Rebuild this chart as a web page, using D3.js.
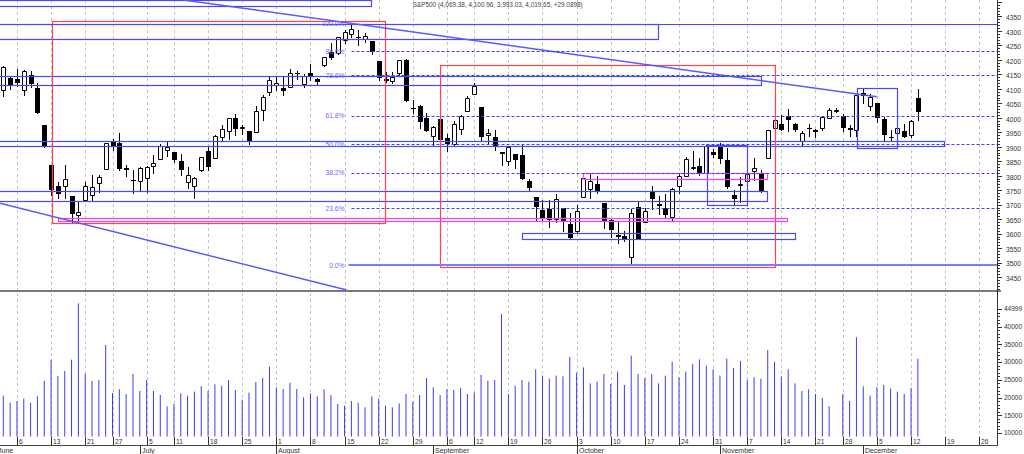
<!DOCTYPE html>
<html><head><meta charset="utf-8">
<script src="https://cdn.jsdelivr.net/npm/d3@7/dist/d3.min.js"></script>
<style>
html,body{margin:0;padding:0;background:#fff;overflow:hidden}
svg{display:block}
text{font-family:"Liberation Sans",Arial,sans-serif}
</style>
</head><body>
<svg id="chart" width="1024" height="454"></svg>
<script>
// ---------------- DATA ----------------
const title = "S&P500 (4,069.38, 4,100.96, 3,993.03, 4,019.65, +29.0898)";

const tradingDates = [
"06-01","06-02","06-03","06-06","06-07","06-08","06-09","06-10","06-13","06-14","06-15","06-16","06-17","06-21","06-22","06-23","06-24","06-27","06-28","06-29","06-30",
"07-01","07-05","07-06","07-07","07-08","07-11","07-12","07-13","07-14","07-15","07-18","07-19","07-20","07-21","07-22","07-25","07-26","07-27","07-28","07-29",
"08-01","08-02","08-03","08-04","08-05","08-08","08-09","08-10","08-11","08-12","08-15","08-16","08-17","08-18","08-19","08-22","08-23","08-24","08-25","08-26","08-29","08-30","08-31",
"09-01","09-02","09-06","09-07","09-08","09-09","09-12","09-13","09-14","09-15","09-16","09-19","09-20","09-21","09-22","09-23","09-26","09-27","09-28","09-29","09-30",
"10-03","10-04","10-05","10-06","10-07","10-10","10-11","10-12","10-13","10-14","10-17","10-18","10-19","10-20","10-21","10-24","10-25","10-26","10-27","10-28","10-31",
"11-01","11-02","11-03","11-04","11-07","11-08","11-09","11-10","11-11","11-14","11-15","11-16","11-17","11-18","11-21","11-22","11-23","11-25","11-28","11-29","11-30",
"12-01","12-02","12-05","12-06","12-07","12-08","12-09","12-12","12-13"];
const futureDates = ["12-14","12-15","12-16","12-19","12-20","12-21","12-22","12-23","12-26","12-27","12-28"];

const open = [
4149.78,4095.41,4137.57,4134.72,4096.47,4147.12,4101.65,3974.39,3838.15,3763.52,3764.05,3728.18,3665.90,3715.31,3733.89,3774.71,3821.75,3920.76,3913.00,3825.09,3785.99,
3781.00,3792.61,3831.98,3858.85,3888.26,3880.94,3851.95,3779.67,3763.99,3818.00,3883.79,3860.73,3935.32,3955.47,4000.20,3965.72,3953.22,3951.43,4026.13,4087.33,
4112.38,4104.21,4107.96,4154.85,4115.87,4155.93,4133.11,4181.02,4227.40,4225.02,4269.37,4290.46,4280.40,4273.13,4266.31,4195.08,4133.09,4126.55,4153.26,4198.74,4034.58,4041.25,4000.67,
3936.73,3994.66,3930.89,3909.43,3959.94,4022.94,4083.67,4037.12,3940.73,3932.41,3880.95,3849.91,3875.23,3871.40,3782.36,3727.14,3682.72,3686.44,3651.94,3687.01,3633.48,
3609.78,3726.46,3753.25,3771.97,3706.74,3647.51,3595.86,3590.83,3520.37,3690.41,3638.65,3746.26,3703.11,3689.05,3657.10,3764.45,3799.44,3825.97,3834.69,3808.26,3881.85,
3901.79,3852.90,3733.25,3766.98,3780.71,3817.02,3810.94,3859.89,3963.72,3977.97,4006.41,3976.82,3919.26,3966.39,3956.23,3965.51,4000.30,4023.34,4005.36,3964.19,3957.18,
4087.14,4040.17,4052.02,3996.63,3933.28,3947.79,3954.17,3939.29,4069.38];
const high = [
4166.54,4177.51,4142.67,4168.78,4164.86,4160.14,4119.10,3974.39,3838.15,3778.18,3837.56,3728.18,3707.71,3779.65,3801.79,3802.58,3913.65,3927.72,3945.86,3836.50,3818.99,
3829.82,3832.19,3870.91,3910.63,3918.50,3880.94,3873.41,3829.44,3796.41,3863.62,3902.44,3939.81,3974.13,3999.29,4012.44,3975.30,3953.22,4039.56,4078.95,4140.15,
4144.95,4140.47,4167.66,4161.29,4151.58,4186.62,4137.30,4211.03,4257.91,4280.47,4301.79,4325.28,4302.18,4292.53,4266.31,4195.08,4159.77,4156.56,4200.54,4203.04,4062.99,4044.98,4015.37,
3970.23,4018.43,3942.55,3987.89,4010.50,4076.81,4119.28,4037.12,3961.94,3959.14,3880.95,3900.45,3876.01,3907.07,3790.28,3727.14,3715.67,3717.53,3736.74,3687.01,3671.44,
3698.35,3791.92,3806.91,3797.93,3706.74,3652.17,3640.66,3608.34,3685.41,3712.00,3689.73,3762.79,3728.58,3736.00,3757.89,3810.74,3862.85,3886.15,3859.95,3905.42,3893.73,
3911.79,3894.44,3750.59,3796.34,3813.95,3859.40,3818.20,3958.33,4001.48,4008.97,4028.84,3983.09,3954.33,3979.89,3962.00,4005.88,4033.78,4034.02,4012.27,3976.77,4080.11,
4100.51,4080.48,4052.45,4001.51,3957.57,3974.19,3977.02,3990.71,4100.96];
const low = [
4073.85,4074.37,4098.67,4109.18,4080.19,4107.20,4017.17,3900.16,3734.30,3724.03,3722.30,3639.77,3636.87,3715.31,3717.69,3743.52,3821.75,3889.66,3820.14,3799.02,3738.67,
3752.10,3742.06,3809.37,3858.85,3869.34,3847.22,3802.36,3759.07,3721.56,3817.18,3818.63,3860.73,3922.03,3927.64,3938.85,3943.46,3910.74,3951.43,3992.97,4079.22,
4096.02,4079.81,4107.96,4135.42,4107.31,4128.97,4112.09,4177.26,4201.41,4219.78,4256.90,4277.77,4253.08,4261.98,4218.70,4129.86,4124.03,4119.97,4147.59,4057.66,4017.42,3965.21,3954.53,
3903.65,3906.21,3886.75,3906.03,3944.81,4022.94,4083.67,3921.95,3912.31,3888.28,3837.08,3838.50,3827.54,3789.49,3749.45,3647.47,3644.76,3623.29,3640.61,3610.40,3584.13,
3604.93,3726.46,3722.66,3739.22,3620.73,3588.10,3568.45,3573.86,3491.58,3579.68,3638.65,3686.53,3666.51,3656.44,3647.42,3741.65,3799.44,3824.07,3803.79,3808.26,3863.18,
3843.80,3758.68,3698.15,3708.84,3764.70,3786.28,3744.22,3859.89,3944.82,3956.40,3953.17,3954.34,3906.54,3935.98,3933.34,3956.88,3998.66,4020.76,3955.77,3937.65,3938.58,
4050.87,4026.63,3984.49,3918.39,3922.68,3935.83,3933.04,3935.30,3993.03];
const close = [
4101.23,4176.82,4108.54,4121.43,4160.68,4115.77,4017.82,3900.86,3749.63,3735.48,3789.99,3666.77,3674.84,3764.79,3759.89,3795.73,3911.74,3900.11,3821.55,3818.83,3785.38,
3825.33,3831.39,3845.08,3902.62,3899.38,3854.43,3818.80,3801.78,3790.38,3863.16,3830.85,3936.69,3959.90,3998.95,3961.63,3966.84,3921.05,4023.61,4072.43,4130.29,
4118.63,4091.19,4155.17,4151.94,4145.19,4140.06,4122.47,4210.24,4207.27,4280.15,4297.14,4305.20,4274.04,4283.74,4228.48,4137.99,4128.73,4140.77,4199.12,4057.66,4030.61,3986.16,3955.00,
3966.85,3924.26,3908.19,3979.87,4006.18,4067.36,4110.41,3932.69,3946.01,3901.35,3873.33,3899.89,3855.93,3789.93,3757.99,3693.23,3655.04,3647.29,3719.04,3640.47,3585.62,
3678.43,3790.93,3783.28,3744.52,3639.66,3612.39,3588.84,3577.03,3669.91,3583.07,3677.95,3719.98,3695.16,3665.78,3752.75,3797.34,3859.11,3830.60,3807.30,3901.06,3871.98,
3856.10,3759.69,3719.89,3770.55,3806.80,3828.11,3748.57,3956.37,3992.93,3957.25,3991.73,3958.79,3946.56,3965.34,3949.94,4003.58,4027.26,4026.12,3963.94,3957.63,4080.11,
4076.57,4071.70,3998.84,3941.26,3933.92,3963.51,3934.38,3990.56,4019.65];
const volume = [null,
20540,18560,19040,19690,18560,20370,24690,30710,26100,27520,
30710,46640,26750,24690,24970,34860,21300,22350,21020,26670,
21870,24970,21870,20740,17530,18190,21210,20540,21680,23180,
21870,23750,23370,24970,22150,19420,21390,24410,25540,28740,
22900,22430,24220,22430,20080,21210,20370,22350,20740,18190,
17720,19040,18560,17250,20370,19690,17720,17250,18380,
21020,18850,20740,25540,22900,20740,22350,22150,22710,21020,
21490,26390,24790,24970,43620,21020,23370,24970,24500,27990,
26200,25350,26200,26010,31470,27050,28550,24030,24500,26670,
23840,27330,23560,31850,26670,25540,26670,24030,26200,30150,
25730,27330,29490,30810,29020,27990,26200,31000,28360,30340,
24970,25730,25350,33450,30150,26010,27990,24030,
21870,22340,21020,19890,17530,null,21020,19040,37030,23180,20550,23000,23560,22520,21680,21020,22800,31000];

const priceTicks = [3450,3500,3550,3600,3650,3700,3750,3800,3850,3900,3950,4000,4050,4100,4150,4200,4250,4300,4350];
const volumeTicks = [10000,15000,20000,25000,30000,35000,40000,44999];
const fibRatios = [1,0.886,0.786,0.618,0.5,0.382,0.236,0];
const fibLabels = ["100.0%","88.6%","78.6%","61.8%","50.0%","38.2%","23.6%","0.0%"];

// annotation boxes: [startSlot, endSlot, priceTop, priceBottom]
const blueBoxes = [
 [-0.5, 54.87, 4406, 4387.3],
 [-0.5, 96.93, 4322.9, 4271.0],
 [-0.5, 112.02, 4145.4, 4112.2],
 [-0.5, 138.88, 3918.5, 3902.6],
 [126.04, 132.0, 4104.0, 3894.6],
 [104.06, 109.92, 3907.0, 3698.8],
 [-0.5, 112.94, 3747.2, 3712.6],
 [77.04, 116.94, 3601.1, 3580.3]];
const pinkBoxes = [
 [85.98, 112.94, 3808.3, 3788.6],
 [9.06, 115.87, 3654.9, 3643.5]];
const redBoxes = [
 [8.09, 56.93, 4333.2, 3635.6],
 [64.98, 114.03, 4183.3, 3483.6]];
// trend lines: [slot1, price1, slot2, price2]
const trendLines = [
 [27.37, 4407.0, 128.97, 4072.8],
 [0.516, 3704.7, 51.31, 3405.2]];
const fullLines = [4325.28];

// ---------------- CHART ----------------
const svg = d3.select("#chart");
const RIGHT = 997;
const PRICE_BOTTOM = 290, VOL_TOP = 292, VOL_BASE = 436.7, AXIS_Y = 445;
const BLUE = "#4848ff";
const n = tradingDates.length;
const parse = d3.timeParse("%Y-%m-%d");
const allDates = tradingDates.concat(futureDates).map(s => parse("2022-" + s));

const x = d3.scaleLinear().domain([1, 144]).range([3.3, 979.3]);
const y = d3.scaleLinear().domain([3491.58, 4325.28]).range([265, 23.6]);
const yv = d3.scaleLinear().domain([10000, 44999]).range([433, 309.1]);
const px = i => Math.round(x(i)) + 0.5;
const py = v => Math.round(y(v)) + 0.5;

svg.append("rect").attr("width",1024).attr("height",454).attr("fill","#fff");
const defs = svg.append("defs");
defs.append("clipPath").attr("id","cp").append("rect").attr("x",0).attr("y",0).attr("width",RIGHT).attr("height",PRICE_BOTTOM);
defs.append("clipPath").attr("id","cv").append("rect").attr("x",0).attr("y",VOL_TOP).attr("width",RIGHT).attr("height",VOL_BASE-VOL_TOP);

const idx = d3.range(allDates.length);
const weekIdx = idx.filter(i => i > 0 && +d3.timeMonday.floor(allDates[i]) !== +d3.timeMonday.floor(allDates[i-1]));
const monthIdx = idx.filter(i => i === 0 || allDates[i].getMonth() !== allDates[i-1].getMonth());

// vertical dashed grid
const grid = svg.append("g");
[[0, PRICE_BOTTOM], [VOL_TOP+1, VOL_BASE]].forEach(([a,b]) => {
  grid.selectAll(null).data(weekIdx).join("line")
    .attr("x1", px).attr("x2", px).attr("y1", a).attr("y2", b)
    .attr("stroke", "#c4c4c4").attr("stroke-width", 1).attr("stroke-dasharray", "3,3");
});

// price pane
const pp = svg.append("g").attr("clip-path", "url(#cp)");

// candles
const cd = d3.range(n);
pp.selectAll("line.wick").data(cd).join("line").attr("class","wick")
  .attr("x1", px).attr("x2", px)
  .attr("y1", i => Math.round(y(high[i]))).attr("y2", i => Math.round(y(low[i])) + 1)
  .attr("stroke", "#000").attr("stroke-width", 1);
pp.selectAll("path.up").data(cd.filter(i => close[i] >= open[i])).join("path").attr("class","up")
  .attr("d", i => {
    const x0 = Math.round(x(i)) - 1.5, x1 = x0 + 4;
    const t = py(close[i]), b = py(open[i]);
    return `M${x0},${t}H${x1}V${b}H${x0}Z`;
  })
  .attr("fill", "#fff").attr("stroke", "#000").attr("stroke-width", 1);
pp.selectAll("rect.down").data(cd.filter(i => close[i] < open[i])).join("rect").attr("class","down")
  .attr("x", i => Math.round(x(i)) - 2).attr("width", 5)
  .attr("y", i => Math.round(y(open[i])))
  .attr("height", i => Math.max(1, Math.round(y(close[i])) - Math.round(y(open[i]))))
  .attr("fill", "#000");

// boxes
function drawBoxes(data, color, w) {
  pp.selectAll(null).data(data).join("rect")
    .attr("x", d => px(d[0])).attr("y", d => py(d[2]))
    .attr("width", d => px(d[1]) - px(d[0])).attr("height", d => py(d[3]) - py(d[2]))
    .attr("fill", "none").attr("stroke", color).attr("stroke-width", w);
}
drawBoxes(blueBoxes, BLUE, 1.2);
drawBoxes(pinkBoxes, "#ff3cff", 1.2);
drawBoxes(redBoxes, "#ff4646", 1.2);

pp.selectAll(null).data(fullLines).join("line")
  .attr("x1", 0).attr("x2", RIGHT).attr("y1", py).attr("y2", py)
  .attr("stroke", BLUE).attr("stroke-width", 1.2);

pp.selectAll(null).data(trendLines).join("line")
  .attr("x1", d => x(d[0])).attr("y1", d => y(d[1]))
  .attr("x2", d => x(d[2])).attr("y2", d => y(d[3]))
  .attr("stroke", "#5a5aff").attr("stroke-width", 1.5);

// fibonacci
const fibHigh = d3.max(high), fibLow = d3.min(low);
const fibStart = high.indexOf(fibHigh);
const fibLevels = fibRatios.map(r => fibLow + r * (fibHigh - fibLow));
fibLevels.forEach((lv, k) => {
  const r = fibRatios[k];
  if (r === 0) {
    pp.append("line").attr("x1", px(fibStart) - 3).attr("x2", RIGHT)
      .attr("y1", y(lv)).attr("y2", y(lv))
      .attr("stroke", "#7c7cff").attr("stroke-width", 2);
  } else if (r !== 1) {
    pp.append("line").attr("x1", px(fibStart)).attr("x2", RIGHT)
      .attr("y1", py(lv)).attr("y2", py(lv))
      .attr("stroke", "#4040f8").attr("stroke-width", 1).attr("stroke-dasharray", "3,2");
  }
  pp.append("text").attr("x", x(fibStart) - 7).attr("y", y(lv) + 0.3).attr("dy", "0.35em")
    .attr("text-anchor", "end").attr("font-size", "6.7px").attr("fill", "#6a6aff")
    .text(fibLabels[k]);
});

// volume bars
const vp = svg.append("g").attr("clip-path", "url(#cv)");
vp.selectAll("line").data(cd.filter(i => volume[i] != null)).join("line")
  .attr("x1", i => x(i)).attr("x2", i => x(i))
  .attr("y1", VOL_BASE).attr("y2", i => yv(volume[i]))
  .attr("stroke", "#3b3bff").attr("stroke-width", 1);

// separators / axes
svg.append("line").attr("x1", 0).attr("x2", 1001).attr("y1", 291).attr("y2", 291)
  .attr("stroke", "#7a7a7a").attr("stroke-width", 2);
svg.append("line").attr("x1", RIGHT + 0.5).attr("x2", RIGHT + 0.5).attr("y1", 0).attr("y2", AXIS_Y)
  .attr("stroke", "#333").attr("stroke-width", 1);

const ax = svg.append("g");
// price ticks
const minorP = d3.range(3410, 4410, 10);
ax.selectAll(null).data(minorP).join("line")
  .attr("x1", RIGHT + 0.5).attr("x2", v => RIGHT + (v % 50 === 0 ? 5 : 3))
  .attr("y1", py).attr("y2", py).attr("stroke", "#333");
ax.selectAll(null).data(priceTicks).join("text")
  .attr("x", 1006).attr("y", v => y(v) + 1.5).attr("dy", "0.35em")
  .attr("font-size", "6.7px").attr("fill", "#333").text(v => v);
// volume ticks
const minorV = d3.range(10000, 46000, 1000);
ax.selectAll(null).data(minorV).join("line")
  .attr("x1", RIGHT + 0.5).attr("x2", v => RIGHT + (v % 5000 === 0 ? 5 : 3))
  .attr("y1", v => Math.round(yv(v)) + 0.5).attr("y2", v => Math.round(yv(v)) + 0.5).attr("stroke", "#333");
ax.selectAll(null).data(volumeTicks).join("text")
  .attr("x", 1004).attr("y", v => yv(v)).attr("dy", "0.35em")
  .attr("font-size", "6.5px").attr("fill", "#333").text(v => v);

// date axis
ax.append("line").attr("x1", 0).attr("x2", RIGHT + 1).attr("y1", AXIS_Y + 0.5).attr("y2", AXIS_Y + 0.5)
  .attr("stroke", "#444");
ax.selectAll(null).data(weekIdx).join("line")
  .attr("x1", px).attr("x2", px).attr("y1", VOL_BASE).attr("y2", AXIS_Y).attr("stroke", "#333");
ax.selectAll(null).data(weekIdx).join("text")
  .attr("x", i => px(i) + 1.5).attr("y", 441.3).attr("dy", "0.35em")
  .attr("font-size", "6.7px").attr("fill", "#333").text(i => allDates[i].getDate());
const monthFmt = d3.timeFormat("%B");
ax.selectAll(null).data(monthIdx).join("line")
  .attr("x1", px).attr("x2", px).attr("y1", AXIS_Y).attr("y2", 454).attr("stroke", "#333");
ax.selectAll(null).data(monthIdx).join("text")
  .attr("x", i => px(i) + 1.5).attr("y", 450.6).attr("dy", "0.35em")
  .attr("font-size", "7px").attr("fill", "#333").text(i => monthFmt(allDates[i]));

// title
svg.append("text").attr("x", 412.7).attr("y", 5).attr("dy", "0.35em")
  .attr("font-size", "6.4px").attr("fill", "#444").text(title);
</script>
</body></html>
